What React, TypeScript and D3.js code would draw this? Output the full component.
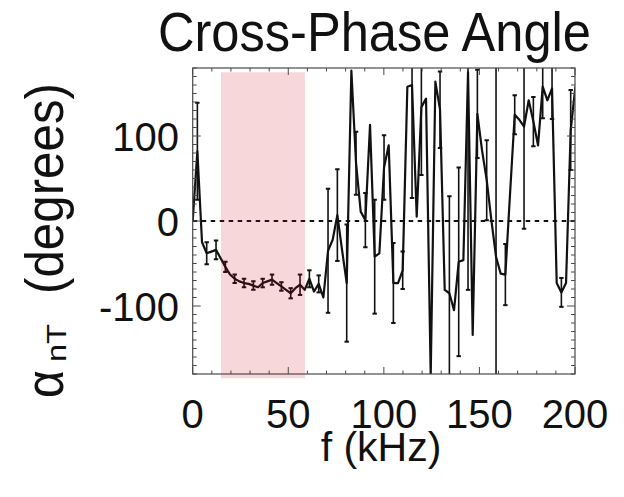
import React from 'react';
import * as d3 from 'd3';

// Frequency (kHz)
const freqKHz = [
  0, 2.44, 4.88, 7.32, 9.77, 12.21, 14.65, 17.09, 19.53, 21.97,
  24.41, 26.86, 29.3, 31.74, 34.18, 36.62, 39.06, 41.5, 43.95, 46.39,
  48.83, 51.27, 53.71, 56.15, 58.59, 61.04, 63.48, 65.92, 68.36, 70.8,
  73.24, 75.68, 78.13, 80.57, 83.01, 85.45, 87.89, 90.33, 92.77, 95.21,
  97.66, 100.1, 102.54, 104.98, 107.42, 109.86, 112.3, 114.75, 117.19, 119.63,
  122.07, 124.51, 126.95, 129.39, 131.84, 134.28, 136.72, 139.16, 141.6, 144.04,
  146.48, 148.93, 151.37, 153.81, 156.25, 158.69, 161.13, 163.57, 166.02, 168.46,
  170.9, 173.34, 175.78, 178.22, 180.66, 183.11, 185.55, 187.99, 190.43, 192.87,
  195.31, 197.75, 200.2,
];
// Cross-phase angle (degrees)
const phaseDeg = [
  0, 82, -25, -38, -36, -34, -44, -54, -63, -68,
  -71, -73, -74, -76, -78, -73, -71, -69, -73, -77,
  -81, -85, -79, -75, -81, -68, -83, -74, -90, -35,
  -22, 7, -34, -73, 177, 68, 11, 1, 113, -42,
  -38, 63, 89, -73, -73, -58, 158, 160, 5, 134,
  144, -182, 164, 131, -81, -85, -105, -48, -46, 175,
  -134, 126, 83, 48, 1, -42, -62, -63, 32, 125,
  119, 111, 142, 117, 89, 158, 142, 156, -73, -84,
  -73, 107, 158,
];
// Error bar half-widths (degrees); 0 = no bar drawn
const phaseErr = [
  0, 57, 0, 13, 0, 11, 0, 6, 0, 5,
  0, 5, 0, 5, 0, 5, 0, 6, 0, 5,
  0, 6, 0, 12, 0, 10, 0, 10, 0, 73,
  0, 54, 0, 69, 0, 37, 0, 32, 0, 67,
  0, 38, 0, 47, 0, 22, 0, 133, 0, 80,
  0, 0, 0, 45, 0, 114, 0, 111, 0, 256,
  0, 52, 0, 47, 0, 250, 0, 36, 0, 23,
  0, 120, 0, 29, 0, 37, 0, 36, 0, 17,
  0, 47, 0,
];

const xMajorTicks = [0, 50, 100, 150, 200];
const xTickLabels = ['0', '50', '100', '150', '200'];
const yMajorTicks = [-100, 0, 100];
const yTickLabels = ['-100', '0', '100'];
const shadeKHz = [14.8, 58.7];
const shadeDeg = [-185, 175];

const FONT = "'Liberation Sans', Arial, Helvetica, sans-serif";

export default function App() {
  const W = 624;
  const H = 497;
  const left = 192.7, right = 575, top = 68, bottom = 374;
  const x = d3.scaleLinear().domain([0, 200]).range([left, right]);
  const y = d3.scaleLinear().domain([-180, 180]).range([bottom, top]);

  const pts = freqKHz.map((f, i) => ({ f, v: phaseDeg[i], e: phaseErr[i] }));
  const line = d3.line<{ f: number; v: number }>().x(d => x(d.f)).y(d => y(d.v));

  const xMinor = x.ticks(20).filter(t => !xMajorTicks.includes(t));
  const yMinor = y.ticks(36).filter(t => !yMajorTicks.includes(t));

  const frameColor = '#4a4a4a';

  return (
    <svg width={W} height={H} style={{ position: 'absolute', left: 0, top: 0, background: '#fff' }}>
      <defs>
        <clipPath id="plotClip">
          <rect x={left} y={top} width={right - left} height={bottom - top} />
        </clipPath>
      </defs>
      <rect x={0} y={0} width={W} height={H} fill="#fff" />

      {/* title */}
      <text x={158} y={51} fontFamily={FONT} fontSize={55} textLength={433} lengthAdjust="spacingAndGlyphs" fill="#111">
        Cross-Phase Angle
      </text>

      {/* data */}
      <g clipPath="url(#plotClip)">
        <path d={line(pts) || ''} fill="none" stroke="#111" strokeWidth={2.2} strokeLinejoin="round" />
        {pts.filter(p => p.e > 0).map((p, i) => {
          const cx = x(p.f);
          const y1 = y(p.v + p.e);
          const y2 = y(p.v - p.e);
          return (
            <g key={i} stroke="#111" strokeWidth={1.6}>
              <line x1={cx} x2={cx} y1={y1} y2={y2} />
              <line x1={cx - 2.2} x2={cx + 2.2} y1={y1} y2={y1} strokeWidth={2} />
              <line x1={cx - 2.2} x2={cx + 2.2} y1={y2} y2={y2} strokeWidth={2} />
            </g>
          );
        })}
        <line x1={left} x2={right} y1={y(0)} y2={y(0)} stroke="#111" strokeWidth={2} strokeDasharray="4.5 4.5" />
      </g>

      {/* shaded band */}
      <rect
        x={x(shadeKHz[0])}
        width={x(shadeKHz[1]) - x(shadeKHz[0])}
        y={y(shadeDeg[1])}
        height={y(shadeDeg[0]) - y(shadeDeg[1])}
        fill="rgb(210,0,19)"
        fillOpacity={0.157}
      />

      {/* frame */}
      <rect x={left} y={top} width={right - left} height={bottom - top} fill="none" stroke={frameColor} strokeWidth={1.2} />

      {/* ticks */}
      <g stroke={frameColor} strokeWidth={1}>
        {xMinor.map(t => (
          <g key={'xm' + t}>
            <line x1={x(t)} x2={x(t)} y1={bottom} y2={bottom - 3.5} />
            <line x1={x(t)} x2={x(t)} y1={top} y2={top + 3.5} />
          </g>
        ))}
        {xMajorTicks.map(t => (
          <g key={'xM' + t}>
            <line x1={x(t)} x2={x(t)} y1={bottom} y2={bottom - 7} />
            <line x1={x(t)} x2={x(t)} y1={top} y2={top + 7} />
          </g>
        ))}
        {yMinor.map(t => (
          <g key={'ym' + t}>
            <line x1={left} x2={left + 4} y1={y(t)} y2={y(t)} />
            <line x1={right} x2={right - 4} y1={y(t)} y2={y(t)} />
          </g>
        ))}
        {yMajorTicks.map(t => (
          <g key={'yM' + t}>
            <line x1={left} x2={left + 8} y1={y(t)} y2={y(t)} />
            <line x1={right} x2={right - 8} y1={y(t)} y2={y(t)} />
          </g>
        ))}
      </g>

      {/* tick labels */}
      {xMajorTicks.map((t, i) => (
        <text key={'xl' + t} x={x(t)} y={428} textAnchor="middle" fontFamily={FONT} fontSize={40} fill="#111">
          {xTickLabels[i]}
        </text>
      ))}
      {yMajorTicks.map((t, i) => (
        <text key={'yl' + t} x={179} y={y(t) + 14.5} textAnchor="end" fontFamily={FONT} fontSize={40} fill="#111">
          {yTickLabels[i]}
        </text>
      ))}

      {/* axis titles */}
      <text x={381} y={461} textAnchor="middle" fontFamily={FONT} fontSize={41} fill="#111">
        f (kHz)
      </text>
      <text transform="translate(63,398) rotate(-90)" fontFamily={FONT} fontSize={54} textLength={28} lengthAdjust="spacingAndGlyphs" fill="#111">
        α
      </text>
      <text transform="translate(66,362) rotate(-90)" fontFamily={FONT} fontSize={27} textLength={38} lengthAdjust="spacingAndGlyphs" fill="#111">
        nT
      </text>
      <text transform="translate(63,294) rotate(-90)" fontFamily={FONT} fontSize={53} textLength={211} lengthAdjust="spacingAndGlyphs" fill="#111">
        (degrees)
      </text>
    </svg>
  );
}
